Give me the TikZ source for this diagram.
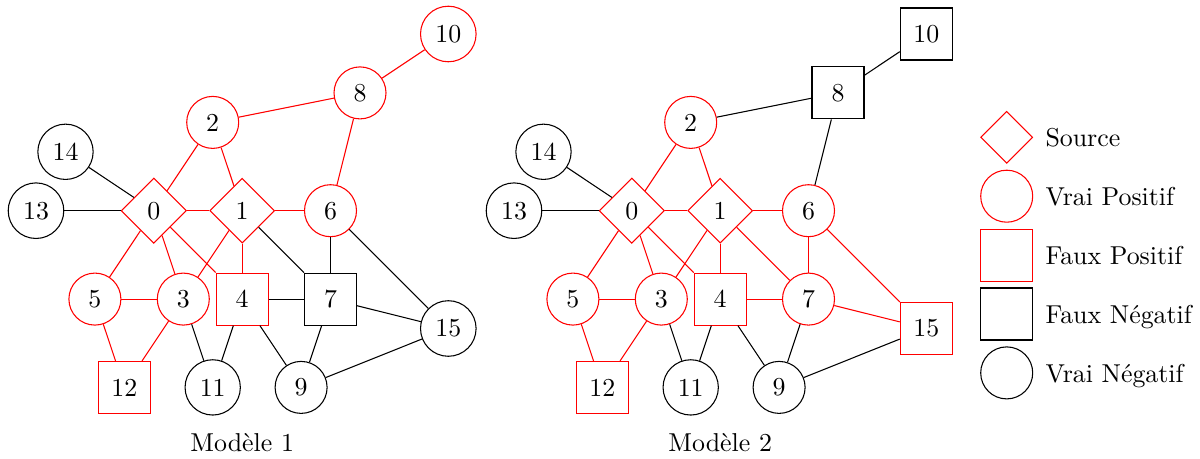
\documentclass[tikz,border=0pt]{standalone}
\usepackage{fontspec}
\setmainfont{lmroman10-regular.otf}
\usepackage{tikz}
\usetikzlibrary{shapes.geometric}
\begin{document}
\begin{tikzpicture}[x=0.75pt,y=-0.75pt,
  every node/.style={font=\fontsize{19.4pt}{23pt}\selectfont, inner sep=6.5pt, minimum size=39pt, line width=0.8pt},
  tp/.style={circle, draw=red},
  tn/.style={circle, draw=black},
  fp/.style={rectangle, draw=red},
  fn/.style={rectangle, draw=black},
  src/.style={diamond, aspect=1, draw=red},
  re/.style={draw=red, line width=0.8pt},
  bk/.style={draw=black, line width=0.8pt},
  lab/.style={anchor=base west, inner sep=0pt, minimum size=0pt},
  captxt/.style={anchor=base, inner sep=0pt, minimum size=0pt}]
\useasboundingbox (0,0) rectangle (1200,459);

% ---------- Modele 1 ----------
\node[tn] (a13) at (36,210.7) {13};
\node[tn] (a14) at (65.5,151.8) {14};
\node[tp] (a5) at (94.9,299.1) {5};
\node[fp] (a12) at (124.4,387.4) {12};
\node[src] (a0) at (153.8,210.7) {0};
\node[tp] (a3) at (183.3,299.1) {3};
\node[tp] (a2) at (212.7,122.4) {2};
\node[tn] (a11) at (212.7,387.4) {11};
\node[src] (a1) at (242.2,210.7) {1};
\node[fp] (a4) at (242.2,299.1) {4};
\node[tn] (a9) at (301.1,387.4) {9};
\node[tp] (a6) at (330.5,210.7) {6};
\node[fn] (a7) at (330.5,299.1) {7};
\node[tp] (a8) at (360,92.9) {8};
\node[tp] (a10) at (448.3,34) {10};
\node[tn] (a15) at (448.3,328.5) {15};
\draw[re] (a10) -- (a8);
\draw[re] (a8) -- (a2);
\draw[re] (a8) -- (a6);
\draw[re] (a2) -- (a0);
\draw[re] (a2) -- (a1);
\draw[re] (a0) -- (a1);
\draw[re] (a1) -- (a6);
\draw[re] (a0) -- (a5);
\draw[re] (a0) -- (a3);
\draw[re] (a0) -- (a4);
\draw[re] (a1) -- (a3);
\draw[re] (a1) -- (a4);
\draw[re] (a5) -- (a3);
\draw[re] (a5) -- (a12);
\draw[re] (a3) -- (a12);
\draw[bk] (a14) -- (a0);
\draw[bk] (a13) -- (a0);
\draw[bk] (a1) -- (a7);
\draw[bk] (a6) -- (a7);
\draw[bk] (a6) -- (a15);
\draw[bk] (a4) -- (a7);
\draw[bk] (a7) -- (a15);
\draw[bk] (a9) -- (a15);
\draw[bk] (a3) -- (a11);
\draw[bk] (a4) -- (a11);
\draw[bk] (a4) -- (a9);
\draw[bk] (a7) -- (a9);
\node[captxt] (c1) at (242.2,452) {Modèle 1};

% ---------- Modele 2 ----------
\node[tn] (b13) at (514,210.7) {13};
\node[tn] (b14) at (543.5,151.8) {14};
\node[tp] (b5) at (572.9,299.1) {5};
\node[fp] (b12) at (602.4,387.4) {12};
\node[src] (b0) at (631.8,210.7) {0};
\node[tp] (b3) at (661.3,299.1) {3};
\node[tp] (b2) at (690.7,122.4) {2};
\node[tn] (b11) at (690.7,387.4) {11};
\node[src] (b1) at (720.2,210.7) {1};
\node[fp] (b4) at (720.2,299.1) {4};
\node[tn] (b9) at (779.1,387.4) {9};
\node[tp] (b6) at (808.5,210.7) {6};
\node[tp] (b7) at (808.5,299.1) {7};
\node[fn] (b8) at (838,92.9) {8};
\node[fn] (b10) at (926.3,34) {10};
\node[fp] (b15) at (926.3,328.5) {15};
\draw[bk] (b10) -- (b8);
\draw[bk] (b8) -- (b2);
\draw[bk] (b8) -- (b6);
\draw[re] (b2) -- (b0);
\draw[re] (b2) -- (b1);
\draw[re] (b0) -- (b1);
\draw[re] (b1) -- (b6);
\draw[re] (b0) -- (b5);
\draw[re] (b0) -- (b3);
\draw[re] (b0) -- (b4);
\draw[re] (b1) -- (b3);
\draw[re] (b1) -- (b4);
\draw[re] (b1) -- (b7);
\draw[re] (b5) -- (b3);
\draw[re] (b5) -- (b12);
\draw[re] (b3) -- (b12);
\draw[re] (b4) -- (b7);
\draw[re] (b6) -- (b7);
\draw[re] (b6) -- (b15);
\draw[re] (b7) -- (b15);
\draw[bk] (b14) -- (b0);
\draw[bk] (b13) -- (b0);
\draw[bk] (b9) -- (b15);
\draw[bk] (b3) -- (b11);
\draw[bk] (b4) -- (b11);
\draw[bk] (b4) -- (b9);
\draw[bk] (b7) -- (b9);
\node[captxt] (c2) at (720.2,452) {Modèle 2};

% ---------- Legende ----------
\node[src] (l1) at (1006.7,137.3) {};
\node[tp] (l2) at (1006.7,196.2) {};
\node[fp] (l3) at (1006.7,255.1) {};
\node[fn] (l4) at (1006.7,314) {};
\node[tn] (l5) at (1006.7,372.9) {};
\node[lab] (t1) at (1045,146.5) {Source};
\node[lab] (t2) at (1045,205.4) {Vrai Positif};
\node[lab] (t3) at (1045,264.3) {Faux Positif};
\node[lab] (t4) at (1045,323.2) {Faux Négatif};
\node[lab] (t5) at (1045,382.1) {Vrai Négatif};
\end{tikzpicture}
\end{document}
